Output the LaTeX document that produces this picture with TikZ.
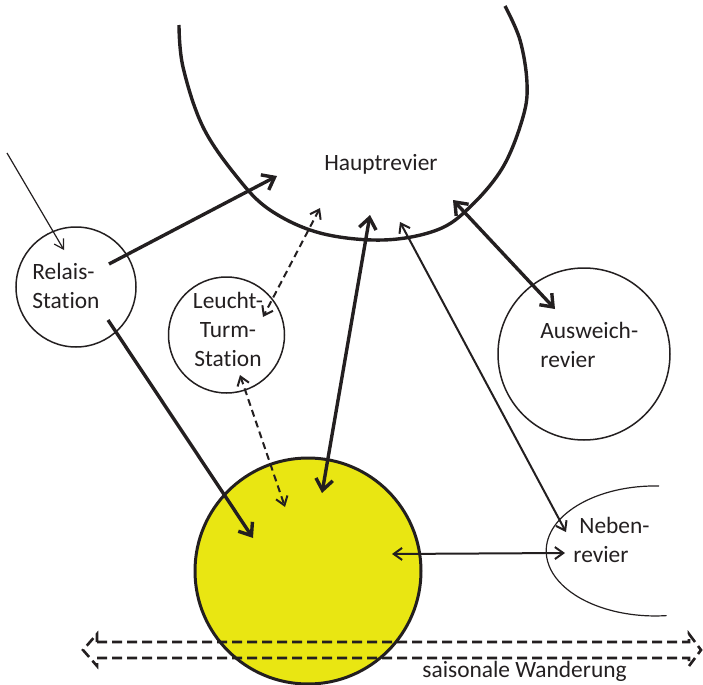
\documentclass[tikz,border=0pt]{standalone}
\usepackage{fontspec}
\setmainfont{Carlito}[Ligatures=NoCommon]
\usetikzlibrary{arrows.meta}
\definecolor{ink}{RGB}{35,31,32}
\definecolor{sun}{RGB}{233,230,18}

\begin{document}
\begin{tikzpicture}[x=0.5pt,y=-0.5pt,
  lbl/.style={font=\fontsize{11.7}{14.5}\selectfont, text=ink, inner sep=0pt},
  ring/.style={circle, draw=ink, line width=0.75pt, inner sep=0pt},
  heavy/.style={draw=ink, line width=1.7pt, >={Straight Barb[length=5.5pt,width=8.5pt]}},
  medium/.style={draw=ink, line width=1pt, >={Straight Barb[length=4.2pt,width=6pt]}},
  dashlink/.style={draw=ink, line width=1pt, dash pattern=on 3.5pt off 2.2pt, >={Straight Barb[length=4.2pt,width=6pt]}},
  fine/.style={draw=ink, line width=0.6pt, >={Straight Barb[length=4.5pt,width=5.5pt]}}
]
\useasboundingbox (0,0) rectangle (703,685);

% main territory: open curve
\draw[ink, line width=1.7pt] plot[smooth, tension=0.6] coordinates {
  (179,25) (183,67) (203,127) (237,177) (270,210) (320,233) (383,240)
  (437,230) (470,207) (503,167) (523,117) (527,83) (520,40) (505,6)};
\node[lbl, anchor=base] (haupt) at (381,170) {Hauptrevier};

% core area
\node[circle, fill=sun, draw=ink, line width=1.5pt, minimum size=113pt, inner sep=0pt] (kern) at (308,571) {};

% stations and side areas (multi-line labels are anchored at the last baseline)
\node[ring, minimum size=60pt] (relais) at (76,287) {};
\node[lbl, anchor=base west, align=left] (relaistext) at (32,308) {Relais-\\Station};

\node[ring, minimum size=58pt] (leucht) at (226.5,335) {};
\node[lbl, anchor=base, align=center] (leuchttext) at (228,366) {Leucht-\\Turm-\\Station};

\node[ring, minimum size=86pt] (ausweich) at (584,354) {};
\node[lbl, anchor=base west, align=left] (ausweichtext) at (540,367) {Ausweich-\\revier};

% side area: partial ellipse
\draw[ink, line width=0.6pt] (659,486) arc[start angle=-88, end angle=-276, x radius=109, y radius=65];
\node[lbl, anchor=base west, align=left] (nebentext) at (573,562) {\hspace*{3pt}Neben-\\revier};

% arrow end points
\coordinate (inA) at (7,153);
\coordinate (inB) at (64,250);
\coordinate (rH0) at (109,264);
\coordinate (rH1) at (277,176);
\coordinate (rK0) at (108,320);
\coordinate (rK1) at (253,538);
\coordinate (hL0) at (320,208);
\coordinate (hL1) at (263,317);
\coordinate (lK0) at (240,375);
\coordinate (lK1) at (285,507);
\coordinate (hK0) at (370,215);
\coordinate (hK1) at (322,493);
\coordinate (hN0) at (400,222);
\coordinate (hN1) at (566,532);
\coordinate (hA0) at (453,200);
\coordinate (hA1) at (555,309);
\coordinate (kN0) at (392,554);
\coordinate (kN1) at (565,553);

% connectors
\draw[fine,->] (inA) -- (inB);
\draw[heavy,->] (rH0) -- (rH1);
\draw[heavy,->] (rK0) -- (rK1);
\draw[dashlink,<->] (hL0) -- (hL1);
\draw[dashlink,<->] (lK0) -- (lK1);
\draw[heavy,<->] (hK0) -- (hK1);
\draw[medium,<->] (hN0) -- (hN1);
\draw[heavy,<->] (hA0) -- (hA1);
\draw[medium,<->] (kN0) -- (kN1);

% seasonal migration: hollow dashed double arrow
\draw[ink, line width=1.3pt, dash pattern=on 5pt off 2.5pt, line join=miter]
  (97,642) -- (689,642) -- (689,634) -- (701,650) -- (689,666) -- (689,658)
  -- (97,658) -- (97,666) -- (83,650) -- (97,634) -- cycle;
\node[lbl, anchor=base west] (wander) at (422,677) {saisonale Wanderung};
\end{tikzpicture}
\end{document}
